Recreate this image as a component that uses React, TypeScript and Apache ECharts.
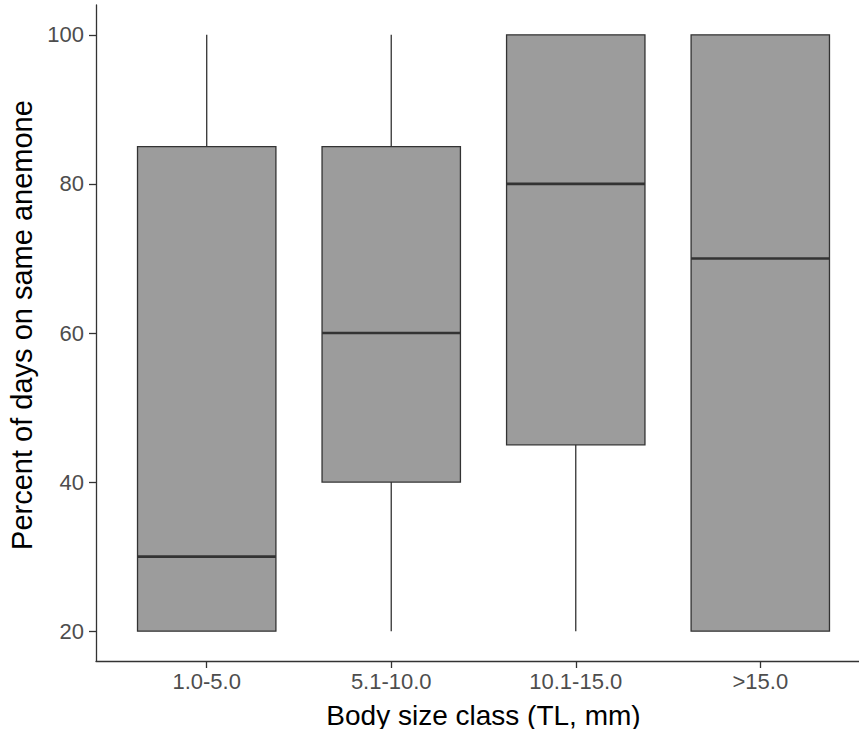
import React, { useEffect, useRef } from "react";
import * as echarts from "echarts";

const categories = ["1.0-5.0", "5.1-10.0", "10.1-15.0", ">15.0"];
const minVals = [20, 20, 20, 20];
const q1Vals = [20, 40, 45, 20];
const medianVals = [30, 60, 80, 70];
const q3Vals = [85, 85, 100, 100];
const maxVals = [100, 100, 100, 100];
const yTicks = [20, 40, 60, 80, 100];
const xTitle = "Body size class (TL, mm)";
const yTitle = "Percent of days on same anemone";

const FONT = "'Liberation Sans', Arial, sans-serif";
const BOX_WIDTH = 0.75;
const LINE = "#333333";

export default function App() {
  const ref = useRef<HTMLDivElement>(null);
  useEffect(() => {
    if (!ref.current) return;
    const chart = echarts.init(ref.current, null, { renderer: "svg" });
    const data = categories.map((_, i) => [
      i + 1,
      minVals[i],
      q1Vals[i],
      medianVals[i],
      q3Vals[i],
      maxVals[i],
    ]);
    chart.setOption({
      animation: false,
      backgroundColor: "#ffffff",
      grid: {
        left: 96,
        right: -12,
        top: 5,
        bottom: 68,
        containLabel: false,
        outerBoundsMode: "none",
      },
      xAxis: {
        type: "value",
        min: 0.4,
        max: 4.6,
        splitLine: { show: false },
        axisLine: { show: true, lineStyle: { color: LINE, width: 1.3 } },
        axisTick: {
          show: true,
          customValues: [1, 2, 3, 4],
          length: 7,
          lineStyle: { color: LINE, width: 1.3 },
        },
        axisLabel: {
          customValues: [1, 2, 3, 4],
          formatter: (v: number) => categories[Math.round(v) - 1] ?? "",
          color: "#4D4D4D",
          fontSize: 22,
          fontFamily: FONT,
          margin: 9,
        },
        name: xTitle,
        nameLocation: "middle",
        nameGap: 40,
        nameTextStyle: { color: "#000000", fontSize: 28, fontFamily: FONT },
      },
      yAxis: {
        type: "value",
        min: 16,
        max: 104,
        splitLine: { show: false },
        axisLine: { show: true, lineStyle: { color: LINE, width: 1.3 } },
        axisTick: {
          show: true,
          customValues: yTicks,
          length: 7,
          lineStyle: { color: LINE, width: 1.3 },
        },
        axisLabel: {
          customValues: yTicks,
          color: "#4D4D4D",
          fontSize: 22,
          fontFamily: FONT,
          margin: 12,
        },
        name: yTitle,
        nameLocation: "middle",
        nameGap: 58,
        nameTextStyle: {
          color: "#000000",
          fontSize: 29,
          fontFamily: FONT,
          padding: [0, 0, 0, 16],
        },
      },
      series: [
        {
          type: "custom",
          data,
          encode: { x: 0, y: [1, 2, 3, 4, 5] },
          renderItem: (params: any, api: any) => {
            const x = api.value(0);
            const lo = api.value(1);
            const q1 = api.value(2);
            const med = api.value(3);
            const q3 = api.value(4);
            const hi = api.value(5);
            const half = api.size([BOX_WIDTH, 0])[0] / 2;
            const pLo = api.coord([x, lo]);
            const pQ1 = api.coord([x, q1]);
            const pMed = api.coord([x, med]);
            const pQ3 = api.coord([x, q3]);
            const pHi = api.coord([x, hi]);
            const cx = pLo[0];
            return {
              type: "group",
              children: [
                {
                  type: "line",
                  shape: { x1: cx, y1: pQ1[1], x2: cx, y2: pLo[1] },
                  style: { stroke: LINE, lineWidth: 1.3 },
                },
                {
                  type: "line",
                  shape: { x1: cx, y1: pQ3[1], x2: cx, y2: pHi[1] },
                  style: { stroke: LINE, lineWidth: 1.3 },
                },
                {
                  type: "rect",
                  shape: {
                    x: cx - half,
                    y: pQ3[1],
                    width: half * 2,
                    height: pQ1[1] - pQ3[1],
                  },
                  style: { fill: "#9C9C9C", stroke: LINE, lineWidth: 1.3 },
                },
                {
                  type: "line",
                  shape: { x1: cx - half, y1: pMed[1], x2: cx + half, y2: pMed[1] },
                  style: { stroke: LINE, lineWidth: 2.6 },
                },
              ],
            };
          },
        },
      ],
    });
    return () => chart.dispose();
  }, []);
  return (
    <div
      ref={ref}
      style={{ position: "absolute", left: 0, top: 0, width: 859, height: 729 }}
    />
  );
}
